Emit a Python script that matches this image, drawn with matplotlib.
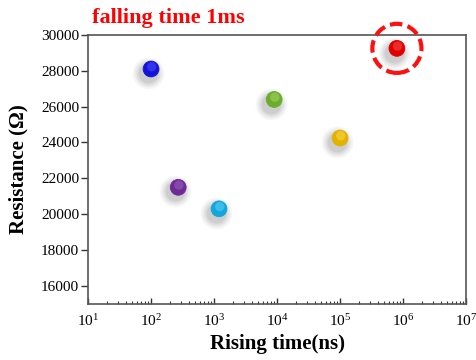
import matplotlib
matplotlib.use("Agg")
import matplotlib.pyplot as plt
import matplotlib.transforms as mtransforms
import numpy as np

plt.rcParams['font.family'] = ['Liberation Serif', 'DejaVu Serif']
plt.rcParams['mathtext.fontset'] = 'custom'
plt.rcParams['mathtext.rm'] = 'Liberation Serif'
plt.rcParams['mathtext.default'] = 'regular'

rising_time_ns = [100, 270, 1200, 9000, 100000, 800000]
resistance_ohm = [28100, 21500, 20300, 26400, 24250, 29250]
colors = ['#1414d8', '#6f2a96', '#12a6da', '#6cae2c', '#e2b200', '#e00000']
highlight_colors = ['#5a5aff', '#a070c8', '#70d8ff', '#b0dc70', '#ffe060', '#ff6060']

x_ticks = [1e1, 1e2, 1e3, 1e4, 1e5, 1e6, 1e7]
x_tick_labels = ['10$^{1}$', '10$^{2}$', '10$^{3}$', '10$^{4}$', '10$^{5}$', '10$^{6}$', '10$^{7}$']
y_ticks = [16000, 18000, 20000, 22000, 24000, 26000, 28000, 30000]

fig = plt.figure(figsize=(4.76, 3.6), dpi=100)
ax = fig.add_axes([0.185, 0.156, 0.794, 0.747])

ax.set_xscale('log')
ax.set_xlim(1e1, 1e7)
ax.set_ylim(15000, 30000)

# shadows (soft blur, offset down-left)
for sz, a in [(520, 0.05), (400, 0.07), (300, 0.09), (210, 0.12)]:
    off = mtransforms.offset_copy(ax.transData, fig=fig, x=-2, y=-3, units='points')
    ax.scatter(rising_time_ns, resistance_ohm, s=sz, color='#606060', alpha=a,
               linewidths=0, transform=off, zorder=2)

# spheres
ax.scatter(rising_time_ns, resistance_ohm, s=130, c=colors, linewidths=0.6,
           edgecolors=colors, zorder=3)
hl = mtransforms.offset_copy(ax.transData, fig=fig, x=0.5, y=1.6, units='points')
ax.scatter(rising_time_ns, resistance_ohm, s=45, c=highlight_colors, linewidths=0,
           alpha=0.45, transform=hl, zorder=4)

# dashed circle around the last point
ax.scatter([rising_time_ns[-1]], [resistance_ohm[-1]], s=1250, facecolors='none',
           edgecolors='#ff1010', linewidths=3.0, linestyles=(0, (3.0, 1.3)), zorder=5,
           clip_on=False)

ax.set_xticks(x_ticks)
ax.set_xticklabels(x_tick_labels, fontsize=11)
ax.set_yticks(y_ticks)
ax.set_yticklabels([str(v) for v in y_ticks], fontsize=11)

ax.tick_params(axis='x', which='major', direction='in', length=4, width=1, color='#333333', pad=7)
ax.tick_params(axis='x', which='minor', direction='in', length=2, width=0.8, color='#333333')
ax.tick_params(axis='y', which='major', direction='out', length=5, width=1, color='#333333', pad=1.5)
ax.tick_params(axis='y', which='minor', left=False)

for sp in ax.spines.values():
    sp.set_color('#555555')
    sp.set_linewidth(1.2)

ax.set_xlabel('Rising time(ns)', fontsize=15, fontweight='bold', labelpad=3)
ax.set_ylabel('Resistance (Ω)', fontsize=15, fontweight='bold', labelpad=9)

fig.text(0.193, 0.95, 'falling time 1ms', color='#ff0000', fontsize=16,
         fontweight='bold', ha='left', va='center')

fig.savefig('out.png', dpi=100)
